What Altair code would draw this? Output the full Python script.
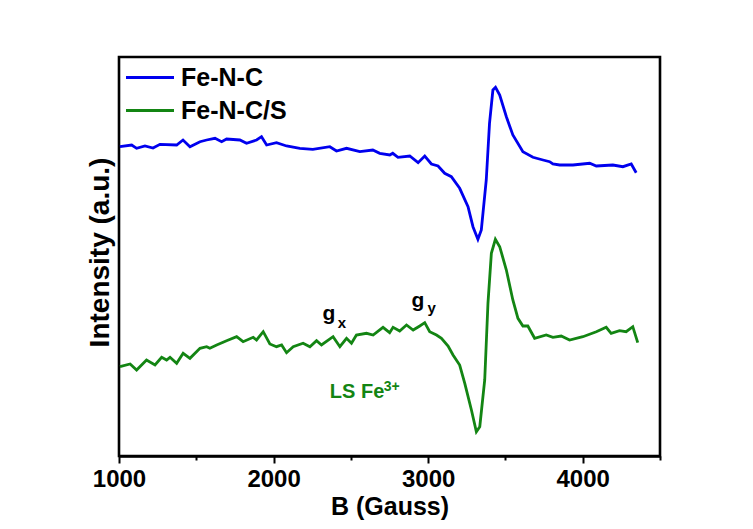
import altair as alt
import pandas as pd

# Magnetic field (Gauss) and EPR intensity (arbitrary units) for each sample
b_fenc = [1006, 1082, 1114, 1168, 1220, 1265, 1373, 1414, 1459, 1524, 1567, 1621, 1664,
          1696, 1782, 1825, 1890, 1922, 1955, 2019, 2084, 2170, 2254, 2364, 2407, 2472,
          2558, 2642, 2687, 2752, 2771, 2805, 2881, 2935, 2978, 3021, 3064, 3107, 3150,
          3204, 3258, 3290, 3322, 3344, 3376, 3397, 3419, 3436, 3463, 3506, 3548, 3613,
          3678, 3743, 3786, 3807, 3851, 3937, 4045, 4088, 4195, 4260, 4314, 4346]
i_fenc = [309.3, 311, 307.7, 310, 308, 311.7, 311, 316, 309.3, 314.3, 316, 317.7, 314.3,
          317, 316, 312.7, 316, 319.3, 311, 313.3, 310, 307.7, 306.7, 309.3, 305, 307.7,
          304.3, 306, 302.7, 301, 302.7, 298.7, 300, 293.3, 300, 292, 290, 282.7, 279.3,
          267.7, 249.3, 229.3, 216.7, 226, 276, 332.7, 366, 368.7, 361, 339.3, 321, 304.3,
          298.7, 296, 294.3, 292, 291, 291, 292.7, 290, 291, 289.3, 292, 283.3]

b_fencs = [1006, 1072, 1114, 1178, 1233, 1276, 1308, 1330, 1373, 1415, 1459, 1524, 1567,
           1588, 1632, 1696, 1761, 1803, 1868, 1890, 1933, 1976, 2019, 2052, 2084, 2127,
           2191, 2235, 2278, 2310, 2385, 2429, 2472, 2504, 2536, 2601, 2644, 2708, 2751,
           2773, 2816, 2860, 2903, 2946, 2978, 3010, 3054, 3086, 3129, 3161, 3204, 3237,
           3280, 3312, 3334, 3366, 3387, 3409, 3435, 3463, 3506, 3548, 3581, 3613, 3645,
           3689, 3764, 3807, 3861, 3915, 4001, 4088, 4152, 4184, 4238, 4281, 4324, 4356]
i_fencs = [89.3, 92, 86, 96, 91, 98.7, 96, 98.7, 92.7, 102.7, 97.7, 107.7, 109.3,
           107.7, 111, 115.3, 119.3, 114.3, 118.7, 116, 124.3, 112, 109.3, 111, 103.3, 109.3,
           112.7, 109.3, 115.3, 111, 119.3, 109.3, 117.7, 112.7, 121, 122.7, 121, 128.7, 123.3,
           128.7, 125, 131, 126, 130, 133.3, 124.3, 121, 117.7, 110, 101, 91, 72.7,
           46, 24.3, 29.3, 76, 152.7, 202.7, 216.7, 209.3, 186, 156, 137.7, 130, 130,
           117.7, 121, 118.7, 120, 116, 119.3, 124.3, 128.7, 122.7, 125.3, 124.3, 129.3, 113.3]

series_names = ["Fe-N-C", "Fe-N-C/S"]
series_colors = ["#0000ee", "#138513"]

FONT = "Liberation Sans"

spectra = pd.concat([
    pd.DataFrame({"B": b_fenc, "I": i_fenc, "sample": series_names[0]}),
    pd.DataFrame({"B": b_fencs, "I": i_fencs, "sample": series_names[1]}),
])

x_scale = alt.Scale(domain=[1000, 4500], nice=False, zero=False)
y_scale = alt.Scale(domain=[0, 399], nice=False, zero=False)

lines = alt.Chart(spectra).mark_line(strokeWidth=2.8).encode(
    x=alt.X("B:Q", scale=x_scale, title="B (Gauss)",
            axis=alt.Axis(values=[1000, 1500, 2000, 2500, 3000, 3500, 4000, 4500],
                          format="d", labelFlush=False,
                          labelExpr="datum.value % 1000 === 0 ? datum.label : ''",
                          tickSize={"condition": {"test": "datum.value % 1000 === 0", "value": 7},
                                    "value": 4},
                          grid=False, labelFontSize=24, titleFontSize=25,
                          titlePadding=3, labelPadding=4)),
    y=alt.Y("I:Q", scale=y_scale, title="Intensity (a.u.)",
            axis=alt.Axis(labels=False, ticks=False, grid=False, domain=False,
                          titleFontSize=28, titlePadding=5, titleY=195)),
    # legend key: a long horizontal stroke drawn from a compact symbol so rows stay tight
    color=alt.Color("sample:N",
                    scale=alt.Scale(domain=series_names, range=series_colors),
                    legend=alt.Legend(title=None, orient="none", legendX=18.5, legendY=8,
                                      symbolType="M-4,0H4", symbolSize=144,
                                      symbolStrokeWidth=3, labelFontSize=25,
                                      labelFont=FONT, labelFontWeight="bold",
                                      labelColor="black", labelOffset=18.5,
                                      rowPadding=7)),
)

# g-tensor labels: main letter and subscript as separate texts
g_labels = pd.DataFrame({"B": [2358, 2933], "I": [136, 149.3], "t": ["g", "g"]})
g_subs = pd.DataFrame({"B": [2442, 3023], "I": [127.7, 142.7], "t": ["x", "y"]})
ls_label = pd.DataFrame({"B": [2364], "I": [57.7], "t": ["LS Fe"]})
ls_sup = pd.DataFrame({"B": [2713], "I": [65], "t": ["3+"]})

def text_layer(df, size, color, align="center"):
    return alt.Chart(df).mark_text(font=FONT, fontWeight="bold", fontSize=size,
                                   color=color, align=align, baseline="alphabetic").encode(
        x=alt.X("B:Q", scale=x_scale), y=alt.Y("I:Q", scale=y_scale), text="t:N")

chart = alt.layer(
    lines,
    text_layer(g_labels, 21, "black"),
    text_layer(g_subs, 15, "black"),
    text_layer(ls_label, 20, series_colors[1], align="left"),
    text_layer(ls_sup, 14, series_colors[1], align="left"),
).properties(
    width=541, height=399,
    background="white",
    autosize=alt.AutoSizeParams(type="none"),
    padding={"left": 119, "top": 57, "right": 93, "bottom": 73},
).configure_view(
    stroke="black", strokeWidth=2.6
).configure_axis(
    domainColor="black", domainWidth=2.6, tickColor="black", tickWidth=2,
    labelFont=FONT, labelFontWeight="bold", labelColor="black",
    titleFont=FONT, titleFontWeight="bold", titleColor="black",
)

chart.save("out.html", embed_options={"renderer": "svg", "actions": False})
